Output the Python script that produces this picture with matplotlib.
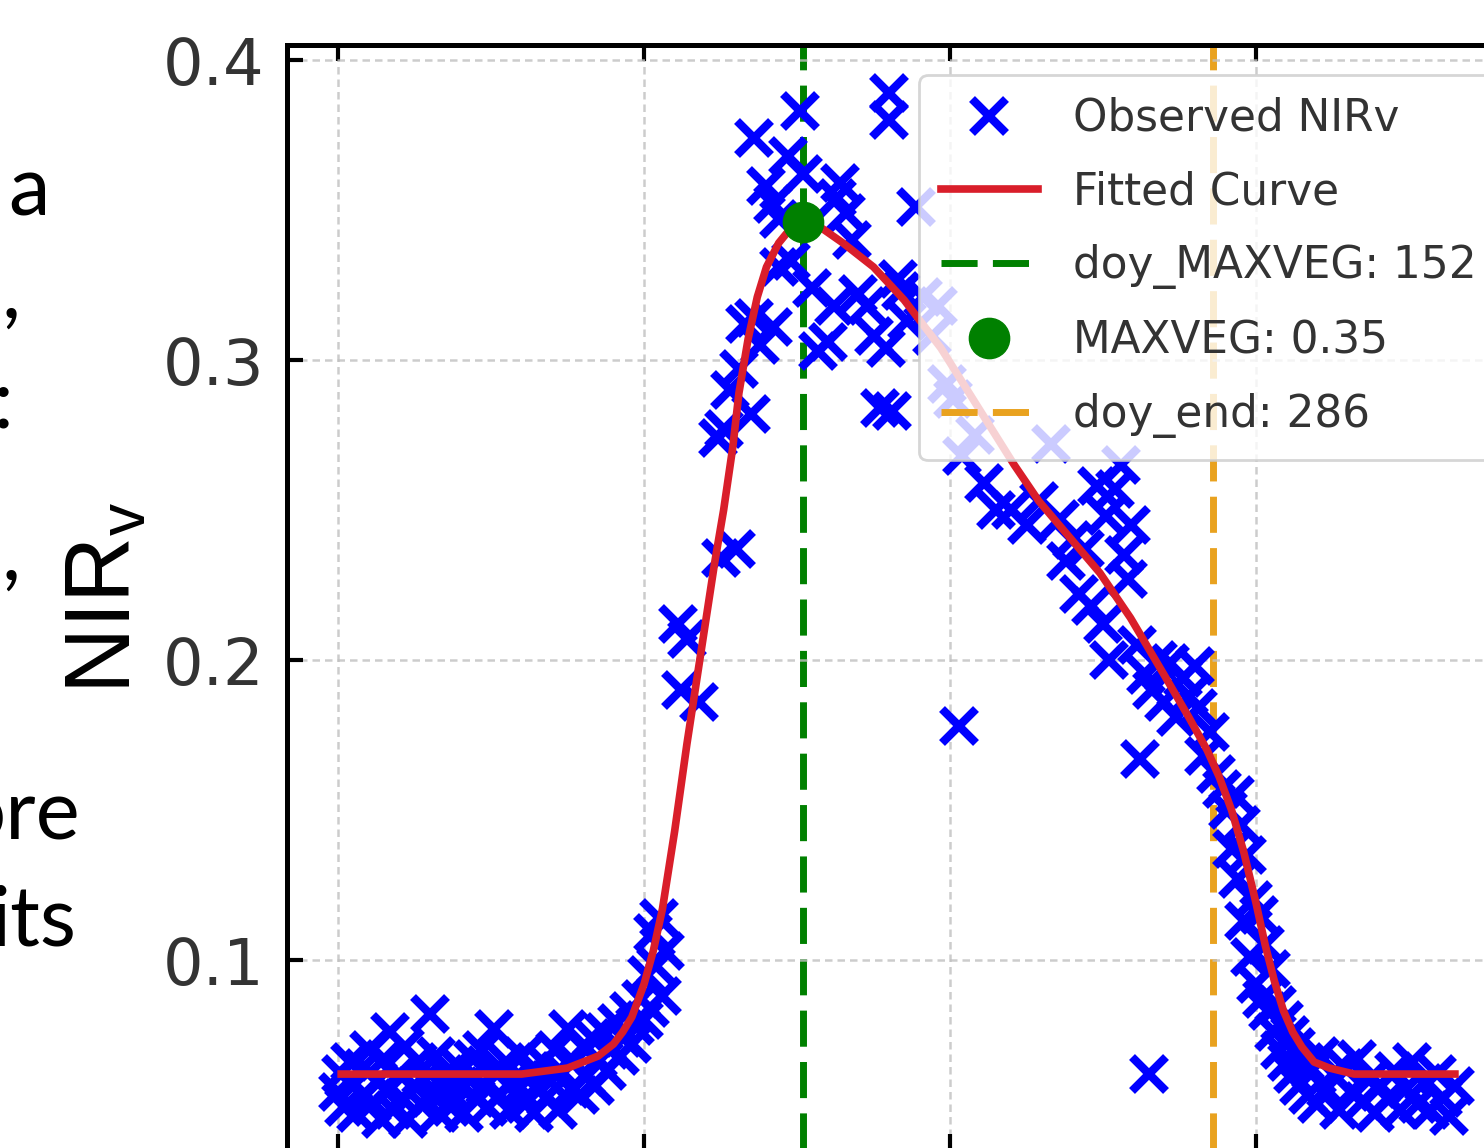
import matplotlib
matplotlib.use("Agg")
import matplotlib.pyplot as plt

obs_doy = [0, 1, 2, 4, 5, 6, 8, 9, 10, 11, 13, 14, 15, 16, 17, 18, 20, 21, 22, 23,
           25, 26, 27, 28, 30, 31, 32, 33, 35, 36, 37, 39, 40, 41, 43, 44, 45, 47, 48, 49,
           51, 52, 53, 55, 56, 57, 59, 60, 61, 63, 64, 65, 67, 68, 69, 71, 72, 73, 75, 76,
           77, 79, 80, 81, 83, 84, 85, 87, 88, 89, 91, 92, 93, 95, 96, 97, 99, 100,
           101, 102, 103, 104, 105, 106, 107, 111, 112, 114, 118, 125, 130, 124, 126, 128,
           131, 133, 135, 136, 136, 138, 140, 142, 142, 144, 144, 147, 148, 151, 152, 155,
           157, 160, 162, 163, 164, 166, 168, 170, 173, 175, 177, 179, 180, 180, 181, 183,
           184, 186, 189, 191, 194, 196, 199, 201, 203, 204, 208, 211, 215, 220, 225, 229,
           233, 236, 238, 240, 242, 244, 246, 248, 250, 251, 252, 254, 256, 257, 258, 259,
           261, 262, 264, 265, 266, 268, 270, 272, 274, 276, 278, 280, 281, 283, 285, 287,
           289, 291, 292, 293, 294, 295, 296, 297, 298, 299, 300, 301, 302, 303, 304, 305,
           306, 307, 308, 309, 310, 311, 312, 313, 314, 316, 317, 318, 320, 321, 323, 325,
           327, 329, 331, 333, 335, 337, 339, 341, 343, 345, 347, 349, 351, 353, 355, 357,
           359, 361, 363, 365]
obs_val = [0.056, 0.062, 0.051, 0.066, 0.058, 0.049, 0.064, 0.055, 0.070, 0.052,
           0.060, 0.047, 0.067, 0.056, 0.076, 0.050, 0.062, 0.054, 0.071, 0.047,
           0.058, 0.066, 0.052, 0.060, 0.082, 0.055, 0.068, 0.049, 0.062, 0.057,
           0.051, 0.065, 0.058, 0.049, 0.060, 0.067, 0.054, 0.070, 0.058, 0.051,
           0.077, 0.062, 0.055, 0.066, 0.050, 0.060, 0.057, 0.068, 0.052, 0.063,
           0.049, 0.058, 0.066, 0.054, 0.060, 0.070, 0.050, 0.063, 0.077, 0.057,
           0.066, 0.055, 0.071, 0.061, 0.074, 0.058, 0.067, 0.076, 0.063, 0.070,
           0.079, 0.068, 0.074, 0.083, 0.072, 0.078, 0.087, 0.080,
           0.095, 0.084, 0.109, 0.098, 0.114, 0.088, 0.103, 0.212, 0.190, 0.207,
           0.186, 0.234, 0.237, 0.274, 0.277, 0.290, 0.297, 0.312, 0.282, 0.314,
           0.374, 0.305, 0.358, 0.311, 0.352, 0.347, 0.331, 0.368, 0.333, 0.383,
           0.362, 0.324, 0.303, 0.306, 0.318, 0.354, 0.359, 0.349, 0.340, 0.322,
           0.318, 0.308, 0.284, 0.304, 0.389, 0.380, 0.283, 0.327, 0.323, 0.313,
           0.351, 0.321, 0.308, 0.318, 0.292, 0.287, 0.178, 0.268, 0.275, 0.259,
           0.250, 0.250, 0.245, 0.253, 0.272, 0.247, 0.233, 0.240, 0.222, 0.237,
           0.218, 0.258, 0.212, 0.248, 0.200, 0.257, 0.265, 0.235, 0.227, 0.245,
           0.205, 0.167, 0.195, 0.062, 0.190, 0.200, 0.186, 0.199, 0.181, 0.194,
           0.188, 0.198, 0.184, 0.168, 0.176, 0.162, 0.157, 0.150, 0.137, 0.155,
           0.127, 0.145, 0.113, 0.135, 0.101, 0.120, 0.092, 0.115, 0.087, 0.105,
           0.083, 0.097, 0.076, 0.085, 0.070, 0.080, 0.066, 0.075, 0.062, 0.071,
           0.058, 0.066, 0.055, 0.063, 0.052, 0.068, 0.057, 0.062, 0.050, 0.064,
           0.056, 0.067, 0.053, 0.060, 0.049, 0.058, 0.054, 0.063, 0.050, 0.057,
           0.066, 0.052, 0.059, 0.050, 0.062, 0.054, 0.048, 0.058]

# fitted curve, read at a set of days
fit_doy = [1, 40, 60, 75, 85, 90, 93, 96, 100, 103, 106, 110, 114, 117, 120, 123,
           126, 129, 131, 134, 137, 140, 144, 148, 152, 158, 165, 175, 185, 191, 197,
           205, 213, 221, 229, 239, 249, 259, 270, 278, 284, 288, 292, 296, 300, 303,
           306, 309, 312, 315, 319, 324, 332, 345, 365]
fit_val = [0.062, 0.062, 0.062, 0.064, 0.068, 0.072, 0.076, 0.081, 0.092, 0.103,
           0.117, 0.143, 0.172, 0.192, 0.212, 0.232, 0.250, 0.271, 0.289, 0.307,
           0.321, 0.331, 0.339, 0.344, 0.346, 0.344, 0.339, 0.331, 0.320, 0.312,
           0.304, 0.291, 0.278, 0.265, 0.253, 0.241, 0.229, 0.214, 0.195, 0.181,
           0.170, 0.161, 0.150, 0.136, 0.119, 0.105, 0.093, 0.083, 0.076, 0.071,
           0.066, 0.064, 0.062, 0.062, 0.062]

doy_maxveg = 152
maxveg = 0.346
doy_end = 286

plt.rcParams['mathtext.fontset'] = 'custom'
plt.rcParams['mathtext.rm'] = 'Liberation Sans'

fig = plt.figure(figsize=(14.84, 11.48), dpi=100)
ax = fig.add_axes([0.1934, -0.0017, 0.8241, 0.9625])

ax.axvline(doy_maxveg, color='green', lw=5, ls='--', dashes=(5.2, 2.2), zorder=1.5,
           label='doy_MAXVEG: %d' % doy_maxveg)
ax.axvline(doy_end, color='#e9a21f', lw=5, ls='--', dashes=(5.2, 2.2), zorder=1.5,
           label='doy_end: %d' % doy_end)
ax.plot(obs_doy, obs_val, 'x', color='blue', ms=25, mew=6, zorder=2, label='Observed NIRv')
ax.plot(fit_doy, fit_val, '-', color='#d91e2a', lw=5.5, zorder=3, label='Fitted Curve')
ax.plot([doy_maxveg], [maxveg], 'o', color='green', ms=29, zorder=4,
        label='MAXVEG: %.2f' % maxveg)

ax.set_xlim(-16.7, 383)
ax.set_ylim(0.0367, 0.405)
ax.set_xticks([0, 100, 200, 300])
ax.set_yticks([0.1, 0.2, 0.3, 0.4])
ax.grid(True, color='#c0c0c0', ls='--', lw=1.8, dashes=(3, 2), alpha=0.8)
ax.tick_params(direction='in', top=True, right=True, length=11.5, width=3,
               labelsize=46, pad=16, labelcolor='#333333', labelbottom=False)
for s in ax.spines.values():
    s.set_linewidth(3.6)

ax.set_ylabel(r'$\mathrm{NIR}_\mathrm{v}$', fontsize=66, labelpad=10)

h, l = ax.get_legend_handles_labels()
order = [2, 3, 0, 4, 1]
leg = ax.legend([h[i] for i in order], [l[i] for i in order], loc='upper right',
                bbox_to_anchor=(1498 / 1484, 1 - 75 / 1148),
                bbox_transform=fig.transFigure, borderaxespad=0,
                fontsize=31.5, framealpha=0.8, edgecolor='#cccccc', handlelength=2.2,
                labelspacing=0.7, borderpad=0.5, labelcolor='#333333')
leg.get_frame().set_linewidth(2)

# fragments of the slide text on the left edge
for txt, x, y in [('a', 8, 215), (',', 2, 318), (':', -7, 428), (',', 2, 580),
                  ('ore', 80, 840), ('its', 76, 945)]:
    fig.text(x / 1484, 1 - y / 1148, txt, fontsize=60, family='Lato',
             ha='right' if len(txt) > 1 else 'left', va='baseline')

fig.savefig('out.png', dpi=100)
